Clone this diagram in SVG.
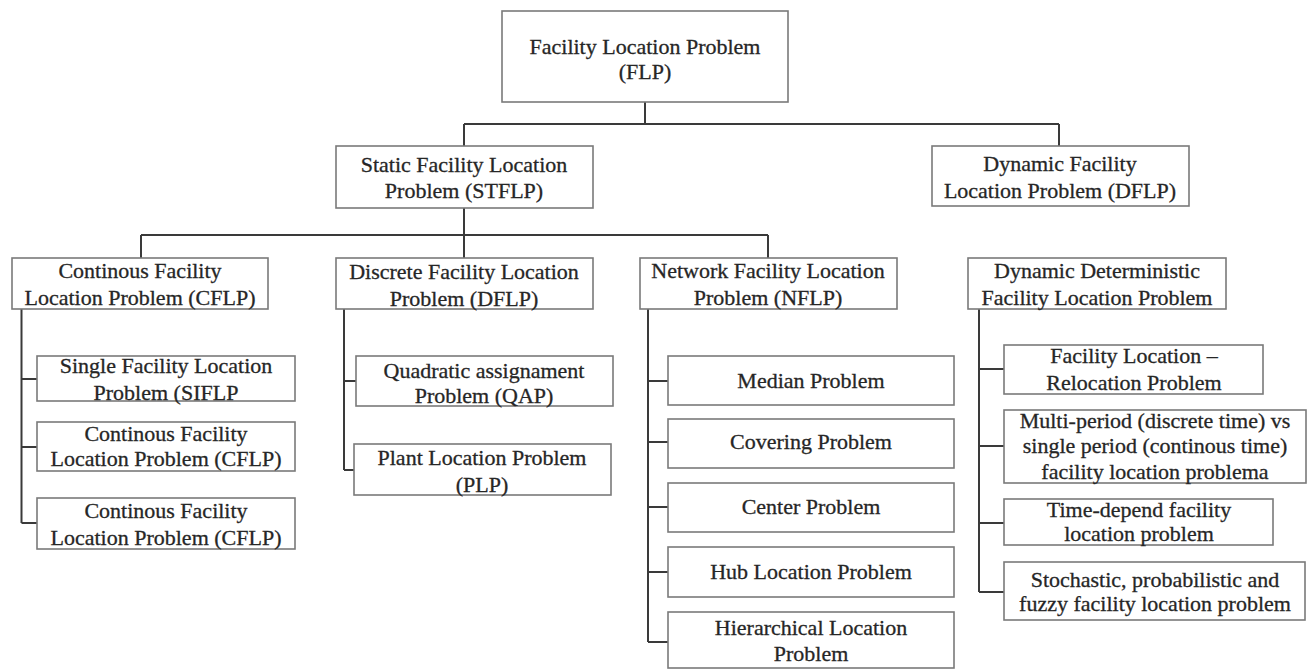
<svg xmlns="http://www.w3.org/2000/svg" width="1307" height="670" viewBox="0 0 1307 670">
<style>
.box{fill:#fff;stroke:#7a7a7a;stroke-width:1.6}
.t{font-family:"Liberation Serif","Times New Roman",serif;font-size:22px;fill:#262626;stroke:#262626;stroke-width:0.3;text-anchor:middle}
.c{stroke:#3a3a3a;stroke-width:2;fill:none}
</style>
<rect width="1307" height="670" fill="#fff"/>
<g id="connectors">
<path class="c" d="M645 102V124M464 124H1059M464 124V146M1059 124V146"/>
<path class="c" d="M464 208V258M141 235H768M141 235V258M768 235V258"/>
<path class="c" d="M21.5 309V523M21.5 379H37M21.5 447H37M21.5 523H37"/>
<path class="c" d="M344 309V470M344 381H356M344 470H354"/>
<path class="c" d="M648 309V642M648 381H668M648 442H668M648 507H668M648 572H668M648 642H668"/>
<path class="c" d="M979 309V592M979 369H1004M979 446H1004M979 523H1004M979 592H1004"/>
</g>
<g id="flp"><rect class="box" x="502" y="11" width="286" height="91"/><text class="t" x="645" y="54">Facility Location Problem</text><text class="t" x="645" y="79">(FLP)</text></g>
<g id="stflp"><rect class="box" x="336" y="146" width="257" height="62"/><text class="t" x="464" y="172">Static Facility Location</text><text class="t" x="464" y="198">Problem (STFLP)</text></g>
<g id="dflp-dynamic"><rect class="box" x="932" y="146" width="257" height="60"/><text class="t" x="1060" y="171">Dynamic Facility</text><text class="t" x="1060" y="198">Location Problem (DFLP)</text></g>
<g id="cflp"><rect class="box" x="12" y="258" width="256" height="51"/><text class="t" x="140" y="278">Continous Facility</text><text class="t" x="140" y="305">Location Problem (CFLP)</text></g>
<g id="dflp-discrete"><rect class="box" x="336" y="258" width="257" height="51"/><text class="t" x="464" y="279">Discrete Facility Location</text><text class="t" x="464" y="306">Problem (DFLP)</text></g>
<g id="nflp"><rect class="box" x="640" y="258" width="257" height="51"/><text class="t" x="768" y="278">Network Facility Location</text><text class="t" x="768" y="305">Problem (NFLP)</text></g>
<g id="ddflp"><rect class="box" x="968" y="258" width="258" height="51"/><text class="t" x="1097" y="278">Dynamic Deterministic</text><text class="t" x="1097" y="305">Facility Location Problem</text></g>
<g id="siflp"><rect class="box" x="37" y="356" width="258" height="45"/><text class="t" x="166" y="373">Single Facility Location</text><text class="t" x="166" y="400">Problem (SIFLP</text></g>
<g id="cflp2"><rect class="box" x="37" y="422" width="258" height="49"/><text class="t" x="166" y="441">Continous Facility</text><text class="t" x="166" y="466">Location Problem (CFLP)</text></g>
<g id="cflp3"><rect class="box" x="37" y="498" width="258" height="51"/><text class="t" x="166" y="518">Continous Facility</text><text class="t" x="166" y="545">Location Problem (CFLP)</text></g>
<g id="qap"><rect class="box" x="356" y="356" width="257" height="50"/><text class="t" x="484" y="378">Quadratic assignament</text><text class="t" x="484" y="403">Problem (QAP)</text></g>
<g id="plp"><rect class="box" x="354" y="444" width="257" height="51"/><text class="t" x="482" y="465">Plant Location Problem</text><text class="t" x="482" y="492">(PLP)</text></g>
<g id="median"><rect class="box" x="668" y="356" width="286" height="49"/><text class="t" x="811" y="388">Median Problem</text></g>
<g id="covering"><rect class="box" x="668" y="419" width="286" height="49"/><text class="t" x="811" y="449">Covering Problem</text></g>
<g id="center"><rect class="box" x="668" y="483" width="286" height="49"/><text class="t" x="811" y="514">Center Problem</text></g>
<g id="hub"><rect class="box" x="668" y="547" width="286" height="50"/><text class="t" x="811" y="579">Hub Location Problem</text></g>
<g id="hierarchical"><rect class="box" x="668" y="612" width="286" height="56"/><text class="t" x="811" y="635">Hierarchical Location</text><text class="t" x="811" y="661">Problem</text></g>
<g id="relocation"><rect class="box" x="1004" y="345" width="259" height="49"/><text class="t" x="1134" y="363">Facility Location –</text><text class="t" x="1134" y="390">Relocation Problem</text></g>
<g id="multiperiod"><rect class="box" x="1004" y="410" width="302" height="73"/><text class="t" x="1155" y="428">Multi-period (discrete time) vs</text><text class="t" x="1155" y="453">single period (continous time)</text><text class="t" x="1155" y="479">facility location problema</text></g>
<g id="timedepend"><rect class="box" x="1004" y="499" width="269" height="46"/><text class="t" x="1139" y="517">Time-depend facility</text><text class="t" x="1139" y="541">location problem</text></g>
<g id="stochastic"><rect class="box" x="1004" y="562" width="301" height="58"/><text class="t" x="1155" y="587">Stochastic, probabilistic and</text><text class="t" x="1155" y="611">fuzzy facility location problem</text></g>
</svg>
